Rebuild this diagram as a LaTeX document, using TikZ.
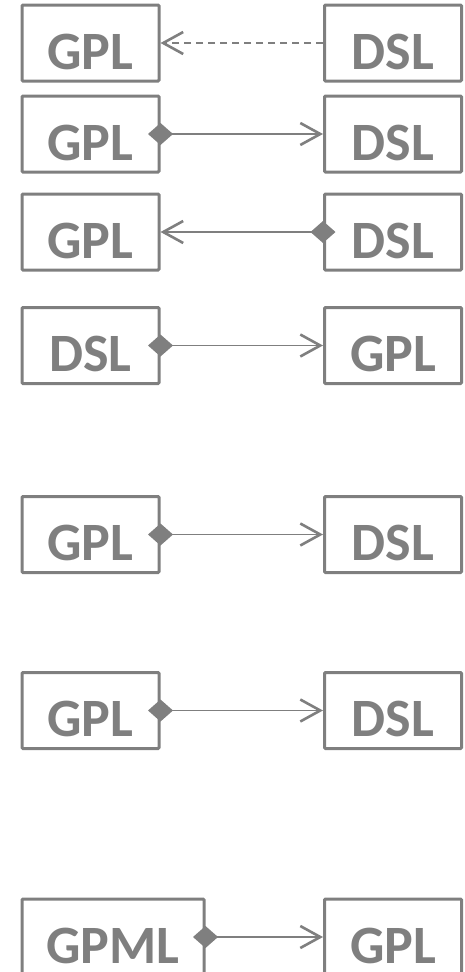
\documentclass[tikz,border=0pt]{standalone}
\usepackage{fontspec}
\setmainfont{Carlito}
\usetikzlibrary{arrows.meta}
\definecolor{ln}{RGB}{127,127,127}
\begin{document}
\begin{tikzpicture}[x=1pt,y=-1pt,
  box/.style={draw=ln, line width=3pt, rounded corners=1pt, inner sep=0pt,
    minimum width=137pt, minimum height=76pt, text height=52pt, text depth=0pt,
    text=ln, font=\fontsize{54}{54}\selectfont\bfseries},
  conn/.style={draw=ln, line width=1.6pt},
  openhead/.style={-{Straight Barb[length=20pt,width=22pt,line width=2.6pt]}},
  dia/.style={{Diamond[length=25pt,width=22pt,fill=ln]}-{Straight Barb[length=20pt,width=22pt,line width=2.6pt]}, shorten <=-12.5pt}
]
\useasboundingbox (0,0) rectangle (464,972);
% row 1
\node[box] (a1) at (90.5,43) {GPL};
\node[box] (b1) at (393,43) {DSL};
\draw[conn, openhead, dash pattern=on 7pt off 5pt] (b1.west) -- (a1.east);
% row 2
\node[box] (a2) at (90.5,134) {GPL};
\node[box] (b2) at (393,134) {DSL};
\draw[conn, dia] (a2.east) -- (b2.west);
% row 3
\node[box] (a3) at (90.5,232) {GPL};
\node[box] (b3) at (393,232) {DSL};
\draw[conn, dia] (b3.west) -- (a3.east);
% row 4
\node[box] (a4) at (90.5,345.5) {DSL};
\node[box] (b4) at (393,345.5) {GPL};
\draw[conn, dia] (a4.east) -- (b4.west);
% row 5
\node[box] (a5) at (90.5,534.5) {GPL};
\node[box] (b5) at (393,534.5) {DSL};
\draw[conn, dia] (a5.east) -- (b5.west);
% row 6
\node[box] (a6) at (90.5,710.5) {GPL};
\node[box] (b6) at (393,710.5) {DSL};
\draw[conn, dia] (a6.east) -- (b6.west);
% row 7
\node[box, minimum width=182pt] (a7) at (113,937) {GPML};
\node[box] (b7) at (393,937) {GPL};
\draw[conn, dia] (a7.east) -- (b7.west);
\end{tikzpicture}
\end{document}
